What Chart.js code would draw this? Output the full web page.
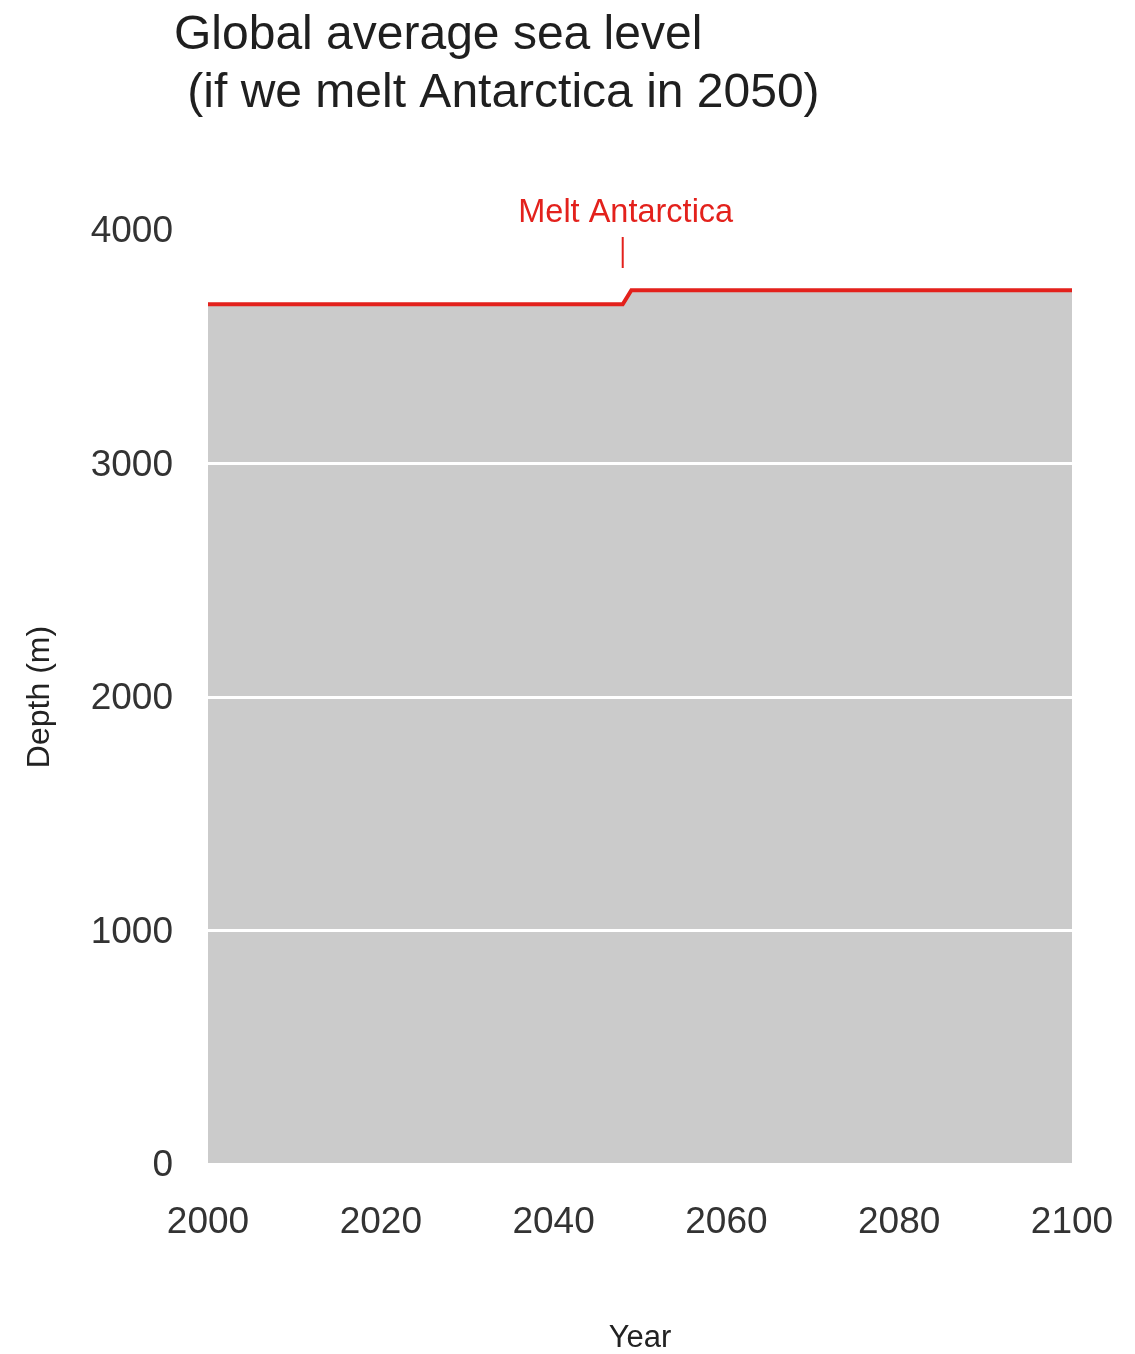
<!DOCTYPE html>
<html>
<head>
<meta charset="utf-8">
<title>Global average sea level</title>
<script src="https://cdn.jsdelivr.net/npm/chart.js@4.4.1/dist/chart.umd.min.js"></script>
<style>
  html, body { margin: 0; padding: 0; background: #ffffff; }
  #wrap { width: 1135px; height: 1354px; }
</style>
</head>
<body>
<div id="wrap"><canvas id="chart" width="1135" height="1354"></canvas></div>
<script>
// Mean ocean depth before and after the Antarctic ice sheet melts
const years = [2000, 2048, 2049, 2100];
const depth = [3682, 3682, 3742, 3742];

const xTicks = [2000, 2020, 2040, 2060, 2080, 2100];
const yTicks = [0, 1000, 2000, 3000, 4000];

const titleLines = ['Global average sea level', ' (if we melt Antarctica in 2050)'];
const meltYear = 2048;
const meltLabel = 'Melt Antarctica';

const FONT = '"Liberation Sans", Arial, Helvetica, sans-serif';
const RED = '#e3211c';

// Title and the event marker above the line
const overlay = {
  id: 'overlay',
  afterDraw(chart) {
    const ctx = chart.ctx;
    const x = chart.scales.x;
    ctx.save();
    ctx.fillStyle = '#1f1f1f';
    ctx.font = '48px ' + FONT;
    ctx.textAlign = 'left';
    ctx.textBaseline = 'alphabetic';
    ctx.fillText(titleLines[0], 174, 49);
    ctx.fillText(titleLines[1], 174, 107);

    const mx = x.getPixelForValue(meltYear);
    ctx.fillStyle = RED;
    ctx.font = '32.5px ' + FONT;
    ctx.textAlign = 'center';
    ctx.textBaseline = 'middle';
    ctx.fillText(meltLabel, mx + 3, 213);
    ctx.strokeStyle = RED;
    ctx.lineWidth = 2;
    ctx.beginPath();
    ctx.moveTo(mx, 237);
    ctx.lineTo(mx, 268);
    ctx.stroke();
    ctx.restore();
  }
};

new Chart(document.getElementById('chart'), {
  type: 'line',
  data: {
    datasets: [{
      data: years.map((y, i) => ({ x: y, y: depth[i] })),
      borderColor: RED,
      borderWidth: 4,
      backgroundColor: '#cbcbcb',
      fill: 'origin',
      pointRadius: 0,
      tension: 0
    }]
  },
  options: {
    responsive: false,
    animation: false,
    layout: { padding: { left: 0, right: 63, top: 230, bottom: 0 } },
    plugins: {
      legend: { display: false },
      tooltip: { enabled: false }
    },
    scales: {
      x: {
        type: 'linear',
        min: 2000,
        max: 2100,
        afterBuildTicks(scale) { scale.ticks = xTicks.map(v => ({ value: v })); },
        afterFit(scale) {
          scale.height = 1354 - 1164;
          scale.paddingLeft = 0;
          scale.paddingRight = 0;
        },
        grid: { display: false, drawTicks: false },
        border: { display: false },
        ticks: {
          padding: 37,
          color: '#333333',
          font: { family: FONT, size: 37 },
          maxRotation: 0,
          callback: v => String(v)
        },
        title: {
          display: true,
          text: 'Year',
          color: '#222222',
          font: { family: FONT, size: 31, lineHeight: 1 },
          padding: { top: 0, bottom: 0 }
        }
      },
      y: {
        min: 0,
        max: 4000,
        afterBuildTicks(scale) { scale.ticks = yTicks.map(v => ({ value: v })); },
        afterFit(scale) {
          scale.width = 208;
          scale.paddingTop = 0;
          scale.paddingBottom = 0;
        },
        grid: { color: '#ffffff', lineWidth: 3, drawTicks: false, z: 1 },
        border: { display: false },
        ticks: {
          padding: 35,
          labelOffset: 2,
          color: '#333333',
          font: { family: FONT, size: 37 },
          callback: v => String(v)
        },
        title: {
          display: true,
          text: 'Depth (m)',
          color: '#222222',
          font: { family: FONT, size: 32, lineHeight: 1.2 },
          padding: { top: 21, bottom: 0 }
        }
      }
    }
  },
  plugins: [overlay]
});
</script>
</body>
</html>
